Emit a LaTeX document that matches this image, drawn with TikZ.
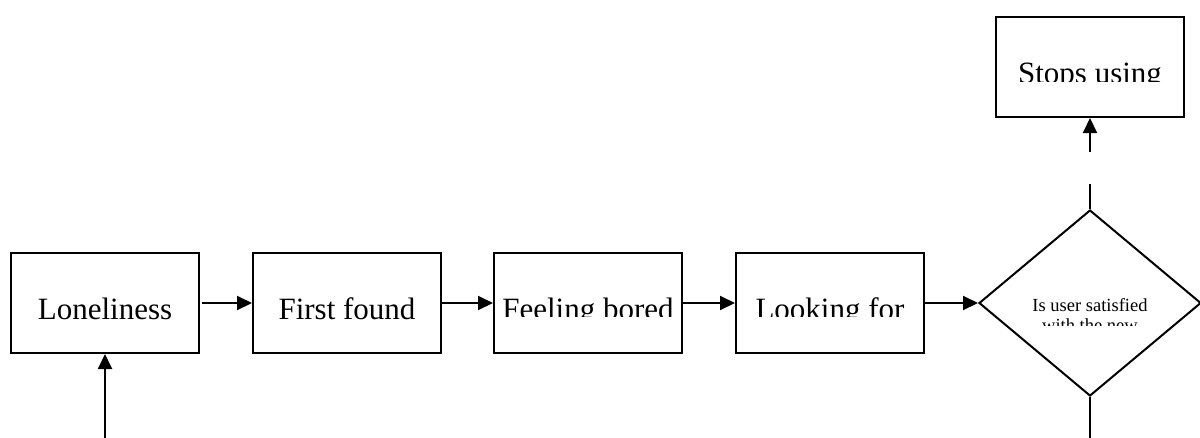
\documentclass[tikz,border=0pt]{standalone}
\usepackage{fontspec}
\setmainfont{Liberation Serif}
\usetikzlibrary{arrows.meta,shapes.geometric}

\tikzset{
  flow/.style={draw=black, line width=2pt, minimum width=188pt, minimum height=100pt, inner sep=0pt, fill=white},
  decide/.style={diamond, draw=black, line width=2pt, minimum width=222pt, minimum height=186pt, inner sep=0pt, fill=white},
  boxtext/.style={anchor=base, inner sep=0pt, font=\fontsize{31}{37}\selectfont},
  smalltext/.style={anchor=base, inner sep=0pt, font=\fontsize{18.5}{21.5}\selectfont},
  link/.style={line width=2pt, -{Triangle[length=15pt,width=14pt]}},
  plain/.style={line width=2pt}
}

\begin{document}
\begin{tikzpicture}[x=1pt, y=-1pt]
  \useasboundingbox (0,0) rectangle (1200,437);
  \clip (0,0) rectangle (1200,437);

  % process boxes
  \node[flow] (lon)  at (105,303) {};
  \node[flow] (ff)   at (347,303) {};
  \node[flow] (bor)  at (588,303) {};
  \node[flow] (look) at (830,303) {};
  \node[flow] (stop) at (1090,67) {};
  \node[decide] (dia) at (1090,303) {};

  % box labels (overflowing text is cut off by the text frame)
  \node[boxtext] (tlon) at (105,319) {Loneliness};
  \node[boxtext] (tff)  at (347,319) {First found};
  \begin{scope}
    \clip (490,250) rectangle (960,316);
    \node[boxtext] (tbor)  at (588,319) {Feeling bored};
    \node[boxtext] (tlook) at (830,319) {Looking for};
  \end{scope}
  \begin{scope}
    \clip (990,20) rectangle (1190,81.5);
    \node[boxtext] (tstop) at (1090,83) {Stops using};
  \end{scope}
  \node[smalltext] (tdia1) at (1090,311) {Is user satisfied};
  \begin{scope}
    \clip (1000,315) rectangle (1180,325.5);
    \node[smalltext] (tdia2) at (1090,331) {with the new};
  \end{scope}

  % connectors
  \coordinate (lonin) at (105,440);
  \coordinate (diaout) at (1090,440);
  \coordinate (upgap) at (1090,184);
  \coordinate (upres) at (1090,152);

  \draw[link] ([xshift=2pt]lon.east) -- (ff.west);
  \draw[link] (ff.east) -- (bor.west);
  \draw[link] (bor.east) -- (look.west);
  \draw[link] (look.east) -- (dia.west);
  \draw[link] (lonin) -- (lon.south);
  \draw[plain] (dia.north) -- (upgap);
  \draw[link] (upres) -- (stop.south);
  \draw[plain] (dia.south) -- (diaout);
\end{tikzpicture}
\end{document}
